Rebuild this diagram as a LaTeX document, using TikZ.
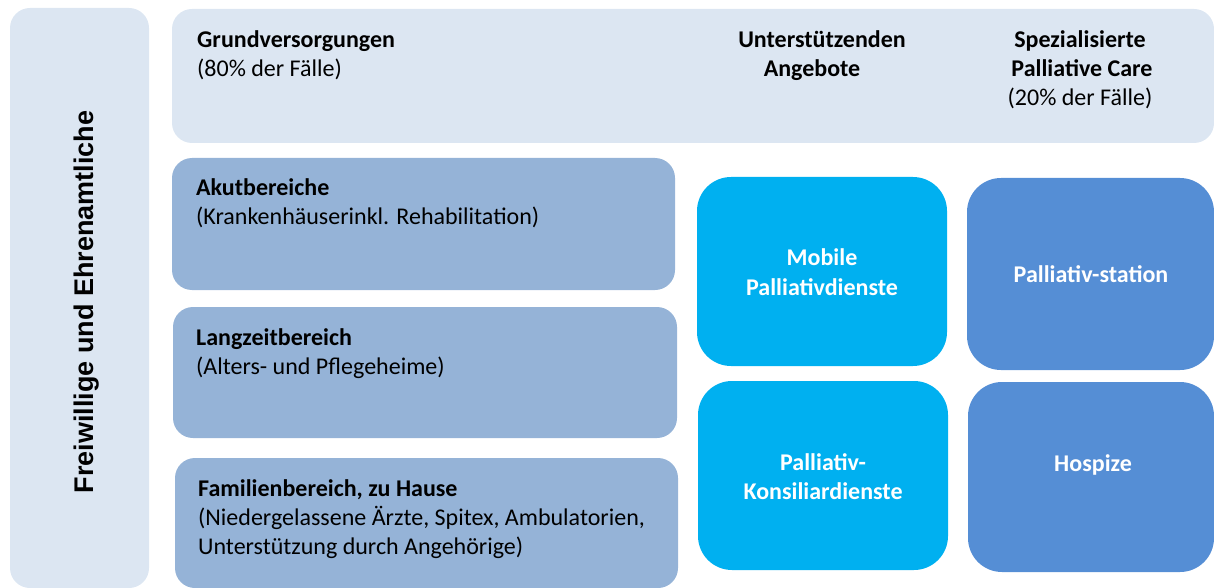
\documentclass[tikz,border=0pt]{standalone}
\usepackage{fontspec}
\setmainfont{Carlito}
\newfontfamily\vertfont{Liberation Sans}
\definecolor{lightbg}{HTML}{DCE6F2}
\definecolor{midblue}{HTML}{95B3D7}
\definecolor{cyanbox}{HTML}{00B0F0}
\definecolor{bluebox}{HTML}{558ED5}
\tikzset{
  box/.style={draw=none, rounded corners=#1, inner sep=0pt},
  box/.default=20pt,
  txt/.style={inner sep=0pt, font=\fontsize{24}{29}\selectfont},
  btxt/.style={txt, font=\fontsize{24}{29}\selectfont\bfseries},
  wtxt/.style={btxt, text=white, anchor=base},
}
\begin{document}
\begin{tikzpicture}[x=1pt,y=-1pt]
\useasboundingbox (0,0) rectangle (1214,588);
% boxes
\path[fill=lightbg, box] (10,8) rectangle (149,588);
\path[fill=lightbg, box] (172,9) rectangle (1214,143);
\path[fill=midblue, box] (172,158) rectangle (675,290);
\path[fill=midblue, box] (173,307) rectangle (677,438);
\path[fill=midblue, box] (175,458) rectangle (678,588);
\path[fill=cyanbox, box=34pt] (697,177) rectangle (947,366);
\path[fill=cyanbox, box=34pt] (698,381) rectangle (948,570);
\path[fill=bluebox, box=34pt] (967,178) rectangle (1214,370);
\path[fill=bluebox, box=34pt] (968,382) rectangle (1214,572);
% vertical label
\node[inner sep=0pt, font=\vertfont\fontsize{27}{32}\selectfont\bfseries, rotate=90, anchor=base] (freiw) at (93,302) {Freiwillige und Ehrenamtliche};
% header
\node[btxt, anchor=base west] (g1) at (197,48) {Grundversorgungen};
\node[txt, anchor=base west] (g2) at (197,77) {(80\% der Fälle)};
\node[btxt, anchor=base] (u1) at (822,48) {Unterstützenden};
\node[btxt, anchor=base] (u2) at (812,77) {Angebote};
\node[btxt, anchor=base] (s1) at (1080,48) {Spezialisierte};
\node[btxt, anchor=base] (s2) at (1082,77) {Palliative Care};
\node[txt, anchor=base] (s3) at (1080,106) {(20\% der Fälle)};
% left boxes
\node[btxt, anchor=base west] (a1) at (196,195) {Akutbereiche};
\node[txt, anchor=base west] (a2) at (196,224) {(Krankenhäuserinkl. Rehabilitation)};
\node[btxt, anchor=base west] (l1) at (196,345) {Langzeitbereich};
\node[txt, anchor=base west] (l2) at (196,374) {(Alters- und Pflegeheime)};
\node[btxt, anchor=base west] (f1) at (198,496) {Familienbereich, zu Hause};
\node[txt, anchor=base west] (f2) at (198,525) {(Niedergelassene Ärzte, Spitex, Ambulatorien,};
\node[txt, anchor=base west] (f3) at (198,554) {Unterstützung durch Angehörige)};
% blue boxes
\node[wtxt] (m1) at (822,265) {Mobile};
\node[wtxt] (m2) at (822,295) {Palliativdienste};
\node[wtxt] (p1) at (1091,282) {Palliativ-station};
\node[wtxt] (k1) at (823,470) {Palliativ-};
\node[wtxt] (k2) at (823,499) {Konsiliardienste};
\node[wtxt] (h1) at (1093,471) {Hospize};
\end{tikzpicture}
\end{document}
